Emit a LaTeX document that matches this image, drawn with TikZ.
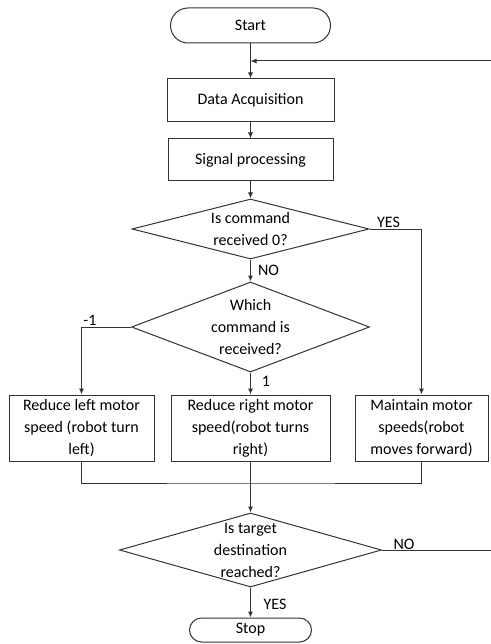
\documentclass[tikz,border=0pt]{standalone}
\usepackage{fontspec}
\setmainfont{Carlito}
\usetikzlibrary{shapes.geometric,shapes.misc,arrows.meta}
\tikzset{
    >={Latex[length=6pt,width=5pt]}, % small filled arrow heads
    }

\begin{document}
\begin{tikzpicture}[x=1pt,y=-1pt,
font=\fontsize{16}{22}\selectfont,
line width=1pt,
termnode/.style={rounded rectangle, draw=black!80, line width=1pt, inner sep=0pt},
procnode/.style={rectangle, draw=black!80, line width=1pt, inner sep=0pt, align=center},
decnode/.style={diamond, draw=black!80, line width=1pt, inner sep=0pt},
tagnode/.style={inner sep=0pt},
]
\useasboundingbox (0,0) rectangle (490,644);

\node[termnode, minimum width=160pt, minimum height=35pt] (start) at (250.5,25.5) {Start};
\node[procnode, minimum width=167pt, minimum height=43pt] (acq) at (250.5,100.5) {Data Acquisition};
\node[procnode, minimum width=165pt, minimum height=42pt] (proc) at (250.5,160) {Signal processing};
\node[decnode, minimum width=237pt, minimum height=60pt,
      label={[align=center]center:Is command\\received 0?}] (dec1) at (250.5,229) {};
\node[decnode, minimum width=238pt, minimum height=90pt,
      label={[align=center]center:Which\\command is\\received?}] (dec2) at (250.5,327) {};
\node[procnode, minimum width=145pt, minimum height=66pt] (left) at (81.5,428) {Reduce left motor\\speed (robot turn\\left)};
\node[procnode, minimum width=159pt, minimum height=66pt] (mid) at (250.5,428) {Reduce right motor\\speed(robot turns\\right)};
\node[procnode, minimum width=133pt, minimum height=66pt] (right) at (421.5,428) {Maintain motor\\speeds(robot\\moves forward)};
\node[decnode, minimum width=262pt, minimum height=74pt,
      label={[align=center]center:Is target\\destination\\reached?}] (dec3) at (250.5,550) {};
\node[termnode, minimum width=122pt, minimum height=24pt] (stop) at (250.5,630) {Stop};

\node[tagnode] (yes1) at (388.5,222.5) {YES};
\node[tagnode] (no1) at (268.5,270.5) {NO};
\node[tagnode] (minus) at (90,320) {-1};
\node[tagnode] (one) at (266,381) {1};
\node[tagnode] (no2) at (404,544) {NO};
\node[tagnode] (yes2) at (275,604.5) {YES};

\coordinate (join) at (250.5,61);
\coordinate (merge) at (250.5,483);
\coordinate (edge) at (492,550);

\draw[draw=black!80,->] (start) -- (acq);
\draw[draw=black!80,->] (acq) -- (proc);
\draw[draw=black!80,->] (proc) -- (dec1);
\draw[draw=black!80,->] (dec1) -- (dec2);
\draw[draw=black!80,->] (dec1.east) -| (right);
\draw[draw=black!80,->] (dec2.west) -| (left);
\draw[draw=black!80,->] (dec2) -- (mid);
\draw[draw=black!80] (left.south) |- (merge) -| (right.south);
\draw[draw=black!80,->] (mid) -- (dec3);
\draw[draw=black!80,->] (dec3) -- (stop);
\draw[draw=black!80,->] (dec3.east) -- (edge) |- (join);

\end{tikzpicture}
\end{document}
